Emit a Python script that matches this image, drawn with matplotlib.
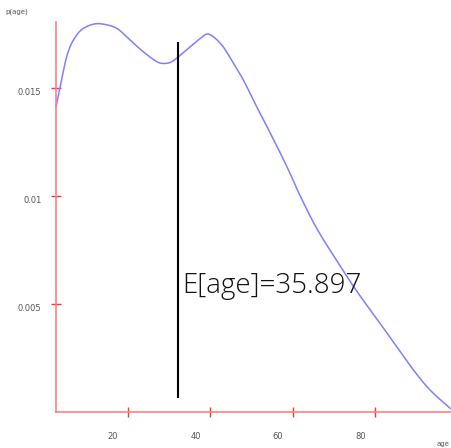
import matplotlib
matplotlib.use('Agg')
import matplotlib.pyplot as plt
import matplotlib.transforms as mtransforms
import numpy as np

# density of age
age = [2.5, 3.5, 4.7, 5.9, 7.5, 9.1, 11.6, 14.0, 17.3, 20.5, 23.7, 27.0, 29.0,
       30.6, 32.2, 35.1, 37.5, 39.1, 40.7, 43.1, 45.6, 48.0, 50.4, 52.9, 55.3,
       57.7, 59.8, 61.8, 65.8, 70.7, 75.5, 81.2, 85.3, 89.3, 93.3, 98.2]
dens = [0.01413, 0.01506, 0.01616, 0.01691, 0.01745, 0.01776, 0.01796, 0.01796,
        0.01776, 0.01722, 0.01668, 0.01622, 0.01614, 0.01622, 0.01645, 0.01691,
        0.01730, 0.01750, 0.01738, 0.01691, 0.01614, 0.01537, 0.01444, 0.01352,
        0.01262, 0.01170, 0.01085, 0.01000, 0.00850, 0.00700, 0.00560, 0.00410,
        0.00300, 0.00194, 0.00102, 0.00017]
xticks = [20, 40, 60, 80]
yticks = [0.005, 0.01, 0.015]
ytick_labels = ['0.005', '0.01', '0.015']
mean_x = 32.2
mean_line = [0.00069, 0.01707]
mean_label = 'E[age]=35.897'


def catmull(x, y, n=12):
    # simple catmull-rom through the read points
    x = np.asarray(x, float)
    y = np.asarray(y, float)
    px = np.concatenate([[2*x[0]-x[1]], x, [2*x[-1]-x[-2]]])
    py = np.concatenate([[2*y[0]-y[1]], y, [2*y[-1]-y[-2]]])
    ox, oy = [], []
    t = np.linspace(0, 1, n, endpoint=False)
    for i in range(1, len(px)-2):
        for P, out in ((px, ox), (py, oy)):
            p0, p1, p2, p3 = P[i-1], P[i], P[i+1], P[i+2]
            out.extend(0.5*((2*p1) + (-p0+p2)*t + (2*p0-5*p1+4*p2-p3)*t**2
                            + (-p0+3*p1-3*p2+p3)*t**3))
    ox.append(x[-1])
    oy.append(y[-1])
    return ox, oy


fig = plt.figure(figsize=(4.51, 4.48), dpi=100)
ax = fig.add_axes([56/451., 36/448., 395/451., 390/448.])

xs, ys = catmull(age, dens)
ax.plot(xs, ys, color='#7f7fff', lw=1.1, clip_on=False)

ax.plot([mean_x, mean_x], mean_line, color='black', lw=1.5)
ax.text(mean_x + 1.0, 0.00551, mean_label, fontsize=20, family='Open Sans',
        weight='light', color='#111111', va='baseline', ha='left')

ax.set_xlim(2.5, 98.4)
ax.set_ylim(0, 0.01806)
for s in ['top', 'right']:
    ax.spines[s].set_visible(False)
for s in ['left', 'bottom']:
    ax.spines[s].set_color('#ff8080')
    ax.spines[s].set_linewidth(1.2)

ax.set_xticks(xticks)
ax.set_xticklabels([str(t) for t in xticks])
ax.set_yticks(yticks)
ax.set_yticklabels(ytick_labels)
ax.tick_params(axis='both', direction='inout', length=7, width=1.0,
               color='#ff3333', labelsize=6, labelcolor='#555555')
ax.tick_params(axis='x', pad=11)
ax.tick_params(axis='y', pad=7)

# x labels sit left of their ticks in the reference
off = mtransforms.ScaledTranslation(-15/100., 0, fig.dpi_scale_trans)
for lab in ax.get_xticklabels():
    lab.set_transform(lab.get_transform() + off)
offy = mtransforms.ScaledTranslation(0, -3/100., fig.dpi_scale_trans)
for lab in ax.get_yticklabels():
    lab.set_transform(lab.get_transform() + offy)

fig.text(5/451., 1 - 12/448., 'p(age)', fontsize=5, color='#555555', va='center')
fig.text(437/451., 1 - 444/448., 'age', fontsize=5, color='#555555', va='center')

fig.savefig('out.png', dpi=100)
